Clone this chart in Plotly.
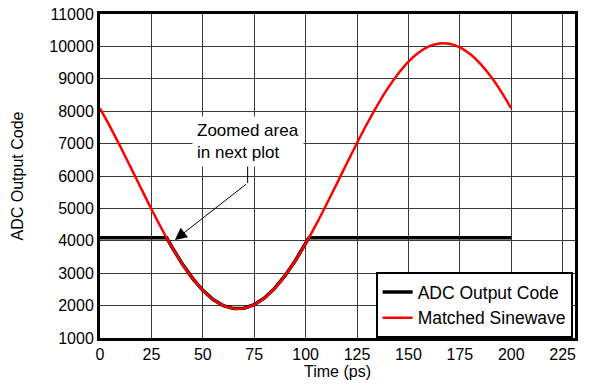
import plotly.graph_objects as go

time_ps = [0, 5, 10, 15, 20, 25, 30, 35, 40, 45, 50, 55, 60, 65, 70, 75, 80, 85, 90, 95,
           100, 105, 110, 115, 120, 125, 130, 135, 140, 145, 150, 155, 160, 165, 170,
           175, 180, 185, 190, 195, 200]
sinewave = [8087, 7509, 6894, 6257, 5614, 4980, 4372, 3803, 3289, 2841, 2471, 2188, 1999,
            1908, 1918, 2029, 2237, 2538, 2924, 3387, 3913, 4491, 5106, 5743, 6386, 7020,
            7628, 8197, 8711, 9159, 9529, 9812, 10001, 10092, 10082, 9971, 9763, 9462,
            9076, 8613, 8087]

adc_time = [0, 32.4, 35, 40, 45, 50, 55, 60, 65, 70, 75, 80, 85, 90, 95, 100, 101.6, 200]
adc_code = [4095, 4095, 3803, 3289, 2841, 2471, 2188, 1999, 1908, 1918, 2029, 2237, 2538,
            2924, 3387, 3913, 4095, 4095]

x_ticks = [0, 25, 50, 75, 100, 125, 150, 175, 200, 225]
y_ticks = [1000, 2000, 3000, 4000, 5000, 6000, 7000, 8000, 9000, 10000, 11000]
y_tick_labels = [str(v) for v in y_ticks]

FONT = "Liberation Sans, Arial, sans-serif"

fig = go.Figure()
fig.add_trace(go.Scatter(x=adc_time, y=adc_code, mode="lines", name="ADC Output Code",
                         line=dict(color="black", width=3.5)))
fig.add_trace(go.Scatter(x=time_ps, y=sinewave, mode="lines", name="Matched Sinewave",
                         line=dict(color="red", width=2.5, shape="spline", smoothing=1)))

# bent leader line of the callout
fig.add_shape(type="line", x0=71.8, y0=6340, x1=71.8, y1=5784, xref="x", yref="y",
              line=dict(color="black", width=1))
fig.add_annotation(x=36.4, y=4025, ax=71.8, ay=5784, xref="x", yref="y",
                   axref="x", ayref="y", text="", showarrow=True, arrowhead=2,
                   arrowsize=2.4, arrowwidth=1, arrowcolor="black")
fig.add_annotation(x=44.5, y=7080, xref="x", yref="y", xanchor="left",
                   text="Zoomed area<br>in next plot",
                   showarrow=False, align="left", bgcolor="white", borderpad=4,
                   font=dict(family=FONT, size=17, color="black"))

axis_common = dict(showgrid=True, gridcolor="#3a3a3a", gridwidth=1, showline=True,
                   linecolor="black", linewidth=3, mirror=True, ticks="", zeroline=False,
                   automargin=False, ticklabeloverflow="allow",
                   tickfont=dict(family=FONT, size=16, color="black"))
fig.update_xaxes(range=[0, 231], tickvals=x_ticks,
                 title=dict(text="Time (ps)", font=dict(family=FONT, size=16, color="black"),
                            standoff=1), **axis_common)
fig.update_yaxes(range=[1000, 11000], tickvals=y_ticks, ticktext=y_tick_labels,
                 title=dict(text="ADC Output Code", font=dict(family=FONT, size=16, color="black"),
                            standoff=22), **axis_common)

fig.update_layout(
    width=597, height=387,
    margin=dict(l=100, r=22, t=14, b=49),
    plot_bgcolor="white", paper_bgcolor="white",
    font=dict(family=FONT, size=16, color="black"),
    legend=dict(x=0.995, y=0, xanchor="right", yanchor="bottom", bgcolor="white",
                bordercolor="black", borderwidth=2, tracegroupgap=0, itemwidth=30,
                font=dict(family=FONT, size=17.5, color="black")),
)

# remove the default 8px page margin so the figure sits at the window's corner
fig.write_html("out.html", config={"displayModeBar": False},
               post_script="document.body.style.margin='0';document.body.style.overflow='hidden';")
